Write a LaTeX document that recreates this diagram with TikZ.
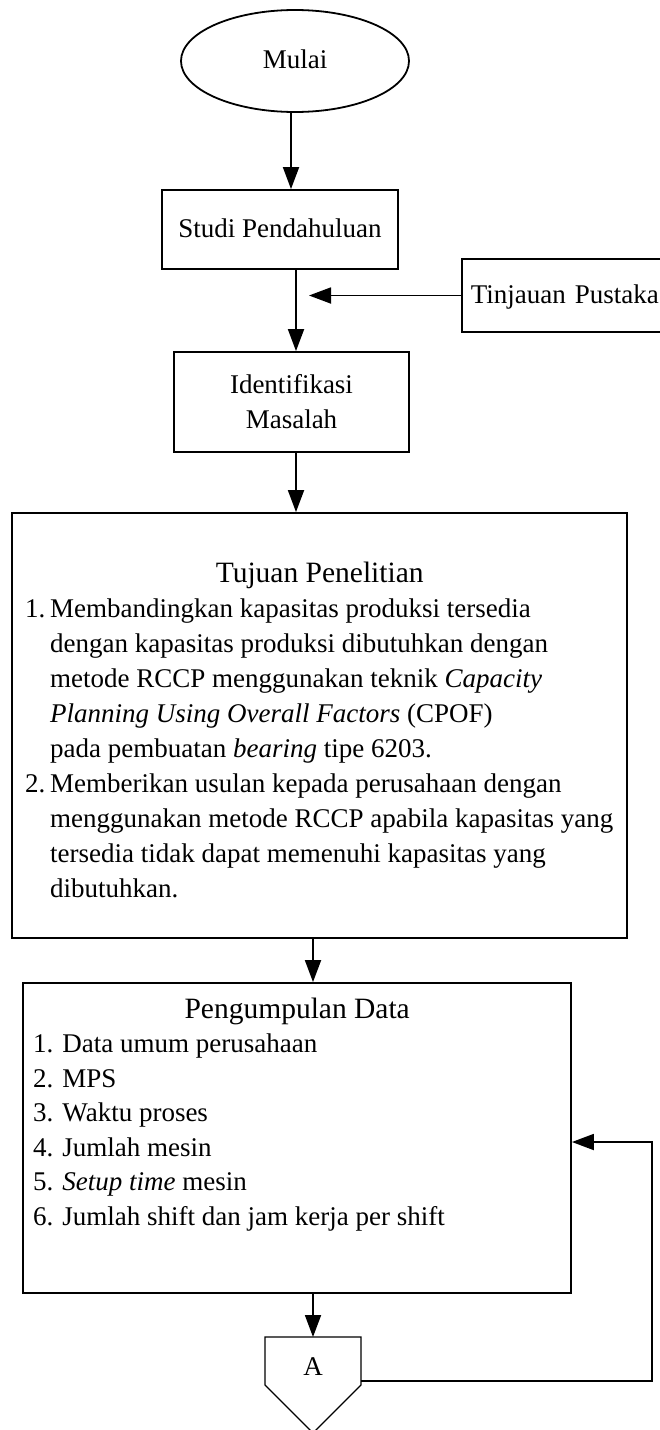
\documentclass[tikz,border=0pt]{standalone}
\usepackage{fontspec}
\setmainfont{Liberation Serif}
\usetikzlibrary{arrows.meta,shapes.geometric}

\newcommand{\boxtitle}[2]{\makebox[#1][c]{\fontsize{29.5}{35}\selectfont #2}}

\begin{document}
\begin{tikzpicture}[x=1pt,y=-1pt,
  every node/.style={font=\fontsize{27}{35}\selectfont},
  box/.style={draw, rectangle, line width=1.8pt, inner sep=0pt},
  onerow/.style={text height=20pt, text depth=5pt},
  flow/.style={line width=1.8pt, -{Triangle[length=22pt,width=16pt]}},
  offpage/.style={draw, line width=1.1pt}]
\useasboundingbox (0,0) rectangle (659,1430);

% terminal and process boxes
\node[ellipse, draw, line width=1.8pt, minimum width=228pt, minimum height=102pt,
      inner sep=0pt, onerow] (mulai) at (295,61) {Mulai};
\node[box, onerow, minimum width=236pt, minimum height=79pt] (studi) at (280,229.5) {Studi Pendahuluan};
\node[box, anchor=west, minimum height=73pt, inner xsep=9pt, text width=240pt,
      align=left, onerow] (tinjauan) at (461,295.5) {Tinjauan Pustaka};
\node[box, minimum width=235pt, minimum height=100pt, align=center] (ident) at (291.5,402) {Identifikasi\\Masalah};

% research objectives
\node[box, minimum width=615pt, minimum height=425pt] (tujuan) at (319.5,725.5) {};
\node[anchor=north west, inner sep=0pt, align=left] (tujuantext) at (25,557) {%
  \rule{0pt}{25pt}\boxtitle{589pt}{Tujuan Penelitian}\\
  \makebox[25pt][l]{1.}Membandingkan kapasitas produksi tersedia\\
  \hspace*{25pt}dengan kapasitas produksi dibutuhkan dengan\\
  \hspace*{25pt}metode RCCP menggunakan teknik \textit{Capacity}\\
  \hspace*{25pt}\textit{Planning Using Overall Factors} (CPOF)\\
  \hspace*{25pt}pada pembuatan \textit{bearing} tipe 6203.\\
  \makebox[25pt][l]{2.}Memberikan usulan kepada perusahaan dengan\\
  \hspace*{25pt}menggunakan metode RCCP apabila kapasitas yang\\
  \hspace*{25pt}tersedia tidak dapat memenuhi kapasitas yang\\
  \hspace*{25pt}dibutuhkan.};

% data collection
\node[box, minimum width=548pt, minimum height=310pt] (peng) at (297,1138) {};
\node[anchor=north west, inner sep=0pt, align=left,
      font=\fontsize{27}{34.5}\selectfont] (pengtext) at (33,993) {%
  \rule{0pt}{25pt}\boxtitle{528pt}{Pengumpulan Data}\\
  1. Data umum perusahaan\\
  2. MPS\\
  3. Waktu proses\\
  4. Jumlah mesin\\
  5. \textit{Setup time} mesin\\
  6. Jumlah shift dan jam kerja per shift};

% off-page connector
\coordinate (atop) at (313,1337);
\coordinate (aright) at (361,1381);
\coordinate (join) at (309,295.5);
\coordinate (loopturn) at (652,1142);
\draw[offpage] (265,1337) -- (361,1337) -- (361,1385) -- (313,1433) -- (265,1385) -- cycle;
\node[inner sep=0pt, onerow] (conA) at (313,1368) {A};

% connectors
\draw[flow] ([xshift=-4pt]mulai.south) -- ([xshift=11pt]studi.north);
\draw[flow] ([xshift=16pt]studi.south) -- ([xshift=4.5pt]ident.north);
\draw[flow] (tinjauan.west) -- (join);
\draw[flow] ([xshift=4.5pt]ident.south) -- ([xshift=-23.5pt]tujuan.north);
\draw[flow] ([xshift=-6.5pt]tujuan.south) -- ([xshift=16pt]peng.north);
\draw[flow] ([xshift=16pt]peng.south) -- (atop);
\draw[flow] (aright) -| (loopturn) -- ([yshift=-4pt]peng.east);
\end{tikzpicture}
\end{document}
